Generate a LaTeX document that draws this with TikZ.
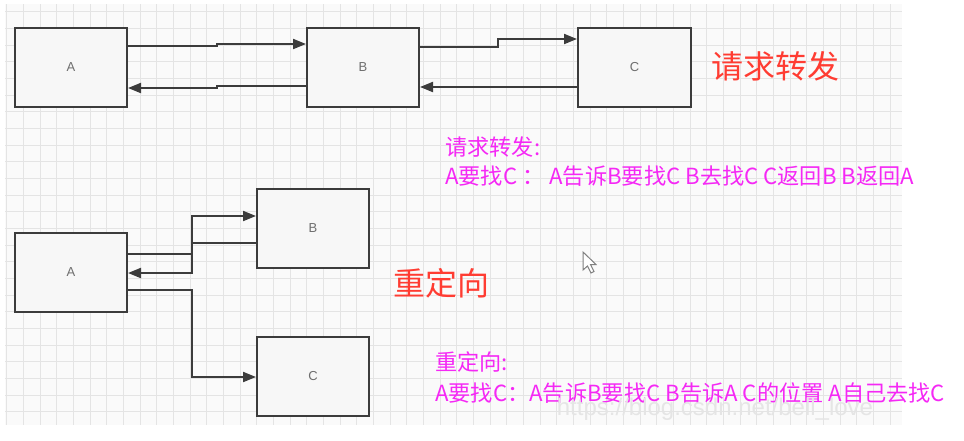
\documentclass[tikz,border=0pt]{standalone}
\usepackage{fontspec}
\setmainfont{Liberation Sans}
\newfontfamily\cjk{Noto Sans CJK SC}
\usetikzlibrary{arrows.meta}
\definecolor{boxline}{RGB}{60,60,60}
\definecolor{labelgray}{RGB}{110,110,110}
\definecolor{titlered}{RGB}{255,60,50}
\definecolor{notepink}{RGB}{245,40,245}
\definecolor{gridgray}{RGB}{228,228,228}

\begin{document}
\begin{tikzpicture}[x=1pt,y=-1pt,
    box/.style={rectangle, draw=boxline, line width=2pt, fill=white!97!black, minimum width=112pt, minimum height=79pt, font=\fontsize{13}{15}\selectfont, text=labelgray},
    arrow/.style={-{Triangle[length=13pt,width=10pt]}, draw=boxline, line width=2pt},
    title/.style={font=\fontsize{32}{38}\cjk, text=titlered},
    note/.style={anchor=west, font=\fontsize{22.2}{26}\cjk, text=notepink, inner sep=0pt},
    watermark/.style={font=\fontsize{24}{28}\selectfont, text=gray!20}
]
    \useasboundingbox (0,0) rectangle (964,440);
    \fill[white!98!black] (5,4) rectangle (902,425);
    \foreach \i in {0,...,53} {
        \draw[gridgray, line width=1pt] ({6.7+16.67*\i},4) -- ({6.7+16.67*\i},425);
    }
    \foreach \j in {0,...,24} {
        \draw[gridgray, line width=1pt] (5,{11.7+16.67*\j}) -- (902,{11.7+16.67*\j});
    }

    \node[box] (a1) at (71,67.5) {A};
    \node[box] (b1) at (363,67.5) {B};
    \node[box, minimum width=113pt] (c1) at (634.5,67.5) {C};
    \draw[arrow] ([yshift=21.5pt]a1.east) -- (217,46) -- (217,44) -- ([yshift=23.5pt]b1.west);
    \draw[arrow] ([yshift=-18.5pt]b1.west) -- (217,86) -- (217,88) -- ([yshift=-20.5pt]a1.east);
    \draw[arrow] ([yshift=20.5pt]b1.east) -- (498,47) -- (498,39) -- ([yshift=28.5pt]c1.west);
    \draw[arrow] ([yshift=-19.5pt]c1.west) -- ([yshift=-19.5pt]b1.east);

    \node[box] (a2) at (71,272.5) {A};
    \node[box] (b2) at (313,228) {B};
    \node[box] (c2) at (313,376) {C};
    \draw[arrow] ([yshift=18.5pt]a2.east) -- (192,254) -- (192,216) -- ([yshift=12pt]b2.west);
    \draw[arrow] ([yshift=-15pt]b2.west) -- (192,243) -- (192,273) -- ([yshift=-0.5pt]a2.east);
    \draw[arrow] ([yshift=-17.5pt]a2.east) -- (192,290) -- (192,377) -- ([yshift=-1pt]c2.west);

    \node[title] (fwd) at (775,66) {请求转发};
    \node[title] (redir) at (441.5,283) {重定向};
    \node[note] (fwdhead) at (445,147) {请求转发:};
    \node[note] (fwdtext) at (445,176.5) {A要找C ： A告诉B要找C B去找C C返回B B返回A};
    \node[note] (redirhead) at (435,362) {重定向:};
    \node[note] (redirtext) at (435,393) {A要找C：A告诉B要找C B告诉A C的位置 A自己去找C};
    \node[watermark] (url) at (715,409) {https://blog.csdn.net/bell\_love};

    \draw[fill=white, draw=gray, line width=1pt] (583,252) -- (583,270) -- (587.5,266) -- (591,273) -- (594,271.5) -- (590.5,264.5) -- (596,264.5) -- cycle;
\end{tikzpicture}
\end{document}
